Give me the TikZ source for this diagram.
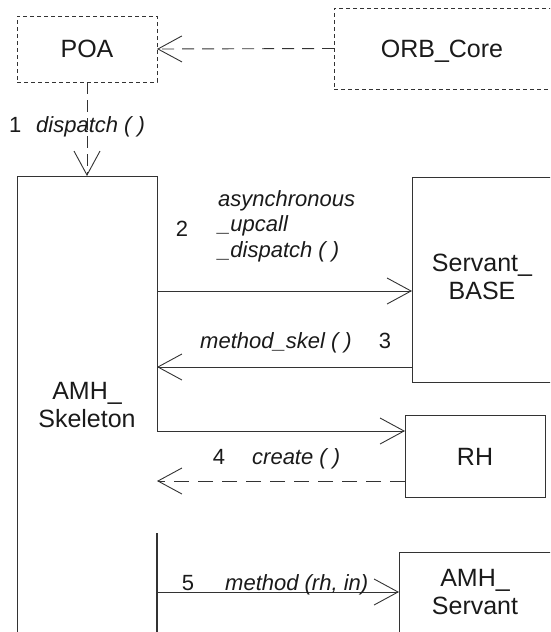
\documentclass[tikz,border=0pt]{standalone}
\usepackage{fontspec}
\setmainfont{Liberation Sans}
\usetikzlibrary{arrows.meta}

\definecolor{ink}{HTML}{333333}
\definecolor{txt}{HTML}{1A1A1A}

\tikzset{
  box/.style={draw=ink, line width=0.9pt, minimum width=#1, inner sep=0pt, outer sep=0pt},
  hidden/.style={inner sep=0pt, outer sep=0pt},
  classname/.style={text=txt, font=\fontsize{25}{28}\selectfont, inner sep=0pt, align=center},
  msg/.style={text=txt, font=\fontsize{22}{25.5}\selectfont\itshape, inner sep=0pt},
  seqno/.style={text=txt, font=\fontsize{22}{25.5}\selectfont, inner sep=0pt},
  call/.style={draw=ink, line width=0.9pt, -{Straight Barb[length=24pt,width=26pt]}},
  boxdash/.style={dash pattern=on 4pt off 3pt},
  longdash/.style={dash pattern=on 12pt off 8pt},
}

\begin{document}
\begin{tikzpicture}[x=1pt,y=-1pt]
  \useasboundingbox (0,0) rectangle (550,632);
  \clip (0,0) rectangle (550,632);

  % participants
  \node[box=140pt, minimum height=66pt, boxdash] (poa) at (87,49) {};
  \node[box=286pt, minimum height=81pt, boxdash] (orb) at (477,48.5) {};
  \node[hidden, minimum width=140pt, minimum height=524pt] (skel) at (87,438) {};
  \node[box=208pt, minimum height=205pt] (sb) at (516,279.5) {};
  \node[box=140pt, minimum height=82pt] (rh) at (475,456) {};
  \node[box=221pt, minimum height=148pt] (ams) at (509.5,626) {};

  % names
  \node[classname, anchor=base] (poaT) at (87,57) {POA};
  \node[classname, anchor=base] (orbT) at (442,57) {ORB\_Core};
  \node[classname] (skelT) at (87,405.5) {AMH\_\\Skeleton};
  \node[classname] (sbT) at (482,277) {Servant\_\\BASE};
  \node[classname, anchor=base] (rhT) at (475,465) {RH};
  \node[classname] (amsT) at (475,592.5) {AMH\_\\Servant};

  % skeleton outline, open between the two lower calls
  \coordinate (gapTop) at (0,431);
  \coordinate (gapBot) at (0,533);
  \draw[ink, line width=0.9pt] (skel.south west) -- (skel.north west)
        -- (skel.north east) -- (skel.east |- gapTop);
  \draw[ink, line width=1.1pt] (skel.east |- gapBot) -- (skel.south east);

  % message rows
  \coordinate (r2) at (0,291);
  \coordinate (r3) at (0,367);
  \coordinate (r4) at (0,431);
  \coordinate (r4b) at (0,481);
  \coordinate (r5) at (0,592);

  \draw[call, longdash] (orb.west) -- (poa.east);
  \draw[call, dash pattern=on 12pt off 6pt] (poa.south) -- (skel.north);
  \draw[call] (skel.east |- r2) -- (sb.west |- r2);
  \draw[call] (sb.west |- r3) -- (skel.east |- r3);
  \draw[call] (skel.east |- r4) -- (rh.west |- r4);
  \draw[call, dash pattern=on 15pt off 9pt] (rh.west |- r4b) -- (skel.east |- r4b);
  \draw[call] (skel.east |- r5) -- (ams.west |- r5);

  % labels
  \node[seqno, anchor=base west] (n1) at (9,132) {1};
  \node[msg, anchor=base west] (m1) at (36,132) {dispatch ( )};
  \node[seqno, anchor=base] (n2) at (182,236) {2};
  \node[msg, anchor=west, align=left] (m2) at (218,226) {asynchronous\\\_upcall\\\_dispatch ( )};
  \node[msg, anchor=base west] (m3) at (200,348) {method\_skel ( )};
  \node[seqno, anchor=base] (n3) at (385,348) {3};
  \node[seqno, anchor=base] (n4) at (219,464) {4};
  \node[msg, anchor=base west] (m4) at (252,464) {create ( )};
  \node[seqno, anchor=base] (n5) at (188,590) {5};
  \node[msg, anchor=base west] (m5) at (225,590) {method (rh, in)};
\end{tikzpicture}
\end{document}
